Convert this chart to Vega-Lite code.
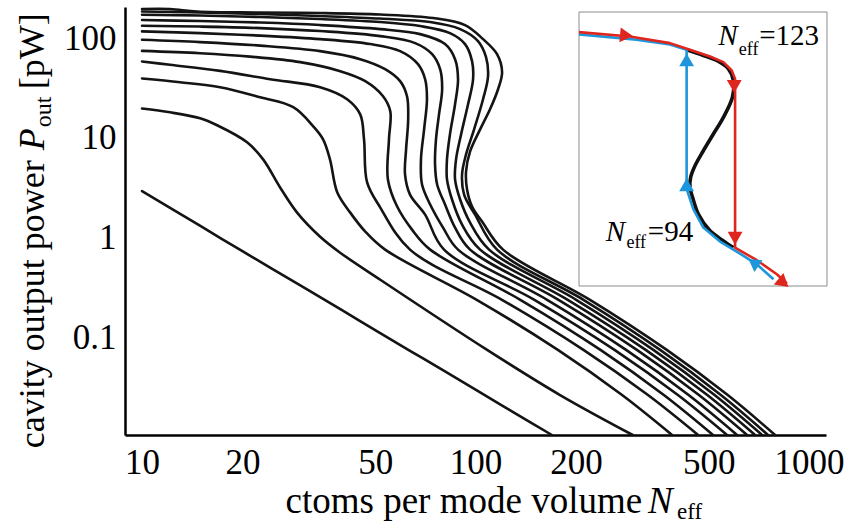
{
 "$schema": "https://vega.github.io/schema/vega-lite/v6.json",
 "width": 701, "height": 428,
 "autosize": {"type": "none"},
 "padding": {"left": 125, "top": 7, "right": 22, "bottom": 92},
 "background": "white",
 "config": {"view": {"stroke": null}, "font": "Liberation Serif"},
 "datasets": {
  "curves": [
   {"c":1,"x":10,"y":2.92},{"c":1,"x":15,"y":1.30},{"c":1,"x":20,"y":0.73},{"c":1,"x":30,"y":0.328},{"c":1,"x":40,"y":0.185},{"c":1,"x":50,"y":0.118},{"c":1,"x":70,"y":0.0607},{"c":1,"x":100,"y":0.030},{"c":1,"x":130,"y":0.0177},{"c":1,"x":169.4,"y":0.0105},
   {"c":2,"x":10,"y":19.66},{"c":2,"x":12.13,"y":18.03},{"c":2,"x":14.93,"y":15.7},{"c":2,"x":16.79,"y":13.37},{"c":2,"x":20.65,"y":9.02},{"c":2,"x":23.07,"y":6.08},{"c":2,"x":25.94,"y":3.18},{"c":2,"x":29.17,"y":1.78},{"c":2,"x":34.2,"y":1.02},{"c":2,"x":39.26,"y":0.706},{"c":2,"x":51.8,"y":0.378},{"c":2,"x":108.3,"y":0.0749},{"c":2,"x":179.2,"y":0.0264},{"c":2,"x":296,"y":0.0105},
   {"c":3,"x":10,"y":39.36},{"c":3,"x":13.0,"y":36.14},{"c":3,"x":17.14,"y":32.2},{"c":3,"x":22.6,"y":25.5},{"c":3,"x":28.4,"y":20.28},{"c":3,"x":32.6,"y":13.06},{"c":3,"x":34.9,"y":9.66},{"c":3,"x":36.6,"y":6.08},{"c":3,"x":38.5,"y":2.83},{"c":3,"x":42.1,"y":1.78},{"c":3,"x":46.7,"y":1.149},{"c":3,"x":53.55,"y":0.758},{"c":3,"x":100.8,"y":0.238},{"c":3,"x":176.5,"y":0.0749},{"c":3,"x":275.0,"y":0.0264},{"c":3,"x":388.3,"y":0.0105},
   {"c":4,"x":10,"y":58.3},{"c":4,"x":12.13,"y":53.95},{"c":4,"x":17.14,"y":46.9},{"c":4,"x":24.2,"y":38.7},{"c":4,"x":34.2,"y":32.2},{"c":4,"x":41.2,"y":24.4},{"c":4,"x":45.1,"y":17.2},{"c":4,"x":46.3,"y":9.66},{"c":4,"x":47.3,"y":3.57},{"c":4,"x":51.8,"y":2.0},{"c":4,"x":63.6,"y":0.758},{"c":4,"x":120.0,"y":0.238},{"c":4,"x":210.6,"y":0.0749},{"c":4,"x":328.8,"y":0.0264},{"c":4,"x":464.8,"y":0.0105},
   {"c":5,"x":10,"y":74.5},{"c":5,"x":14.93,"y":70.6},{"c":5,"x":21.1,"y":65.2},{"c":5,"x":29.8,"y":57.4},{"c":5,"x":39.3,"y":46.6},{"c":5,"x":46.7,"y":37.0},{"c":5,"x":52.8,"y":26.1},{"c":5,"x":55.5,"y":18.45},{"c":5,"x":55.0,"y":9.66},{"c":5,"x":54.6,"y":3.83},{"c":5,"x":58.2,"y":2.05},{"c":5,"x":64.5,"y":1.203},{"c":5,"x":73.1,"y":0.758},{"c":5,"x":136.2,"y":0.238},{"c":5,"x":236.9,"y":0.0749},{"c":5,"x":366.9,"y":0.0264},{"c":5,"x":515.3,"y":0.0105},
   {"c":6,"x":10,"y":96.1},{"c":6,"x":14.93,"y":91.2},{"c":6,"x":22.6,"y":84.1},{"c":6,"x":34.2,"y":74.0},{"c":6,"x":45.1,"y":61.5},{"c":6,"x":53.55,"y":48.8},{"c":6,"x":59.4,"y":37.0},{"c":6,"x":62.3,"y":26.1},{"c":6,"x":62.8,"y":15.35},{"c":6,"x":61.9,"y":7.66},{"c":6,"x":61.45,"y":4.3},{"c":6,"x":63.6,"y":2.7},{"c":6,"x":70.6,"y":1.7},{"c":6,"x":80.45,"y":0.758},{"c":6,"x":150.1,"y":0.238},{"c":6,"x":261.0,"y":0.0749},{"c":6,"x":404.3,"y":0.0264},{"c":6,"x":567.5,"y":0.0105},
   {"c":7,"x":10,"y":116.8},{"c":7,"x":14.93,"y":112.2},{"c":7,"x":22.6,"y":105.9},{"c":7,"x":34.2,"y":97.7},{"c":7,"x":48.3,"y":87.1},{"c":7,"x":59.4,"y":74.0},{"c":7,"x":67.2,"y":54.8},{"c":7,"x":70.6,"y":38.7},{"c":7,"x":71.5,"y":24.4},{"c":7,"x":70.1,"y":12.17},{"c":7,"x":68.6,"y":6.08},{"c":7,"x":69.1,"y":3.41},{"c":7,"x":73.1,"y":2.15},{"c":7,"x":79.9,"y":1.26},{"c":7,"x":88.6,"y":0.758},{"c":7,"x":163.9,"y":0.238},{"c":7,"x":282.7,"y":0.0749},{"c":7,"x":435.3,"y":0.0264},{"c":7,"x":608.2,"y":0.0105},
   {"c":8,"x":10,"y":132.9},{"c":8,"x":14.93,"y":130.5},{"c":8,"x":22.6,"y":126.0},{"c":8,"x":34.2,"y":117.6},{"c":8,"x":51.8,"y":104.7},{"c":8,"x":65.9,"y":89.1},{"c":8,"x":74.1,"y":69.0},{"c":8,"x":78.3,"y":48.8},{"c":8,"x":79.4,"y":30.7},{"c":8,"x":77.7,"y":17.2},{"c":8,"x":76.1,"y":9.66},{"c":8,"x":75.6,"y":5.42},{"c":8,"x":76.7,"y":3.41},{"c":8,"x":81.0,"y":2.15},{"c":8,"x":86.8,"y":1.26},{"c":8,"x":96.3,"y":0.758},{"c":8,"x":177.3,"y":0.238},{"c":8,"x":304.6,"y":0.0749},{"c":8,"x":467.4,"y":0.0264},{"c":8,"x":651.7,"y":0.0105},
   {"c":9,"x":10,"y":151.7},{"c":9,"x":14.93,"y":148.3},{"c":9,"x":22.6,"y":143.2},{"c":9,"x":34.2,"y":135.1},{"c":9,"x":51.8,"y":123.1},{"c":9,"x":68.2,"y":109.6},{"c":9,"x":81.0,"y":87.1},{"c":9,"x":86.8,"y":61.5},{"c":9,"x":88.6,"y":38.7},{"c":9,"x":86.8,"y":21.7},{"c":9,"x":83.8,"y":10.84},{"c":9,"x":82.1,"y":6.08},{"c":9,"x":82.1,"y":3.83},{"c":9,"x":85.0,"y":2.41},{"c":9,"x":91.1,"y":1.351},{"c":9,"x":103.2,"y":0.758},{"c":9,"x":189.0,"y":0.238},{"c":9,"x":323.6,"y":0.0749},{"c":9,"x":495.3,"y":0.0264},{"c":9,"x":688.8,"y":0.0105},
   {"c":10,"x":10,"y":171.5},{"c":10,"x":14.93,"y":168.3},{"c":10,"x":22.6,"y":162.6},{"c":10,"x":34.2,"y":155.2},{"c":10,"x":51.8,"y":144.9},{"c":10,"x":68.2,"y":132.0},{"c":10,"x":83.8,"y":112.2},{"c":10,"x":93.0,"y":87.1},{"c":10,"x":97.6,"y":58.75},{"c":10,"x":98.3,"y":38.7},{"c":10,"x":94.95,"y":21.7},{"c":10,"x":90.5,"y":10.84},{"c":10,"x":87.4,"y":6.08},{"c":10,"x":86.8,"y":3.83},{"c":10,"x":89.9,"y":2.41},{"c":10,"x":96.3,"y":1.415},{"c":10,"x":109.8,"y":0.758},{"c":10,"x":200.3,"y":0.238},{"c":10,"x":341.3,"y":0.0749},{"c":10,"x":520.8,"y":0.0264},{"c":10,"x":722.9,"y":0.0105},
   {"c":11,"x":10,"y":184.6},{"c":11,"x":12.13,"y":183.4},{"c":11,"x":14.93,"y":180.4},{"c":11,"x":22.6,"y":174.3},{"c":11,"x":34.2,"y":166.4},{"c":11,"x":51.8,"y":157.0},{"c":11,"x":73.1,"y":144.8},{"c":11,"x":89.9,"y":123.1},{"c":11,"x":101.7,"y":93.3},{"c":11,"x":107.5,"y":64.4},{"c":11,"x":109.0,"y":41.5},{"c":11,"x":105.3,"y":24.4},{"c":11,"x":99.0,"y":12.17},{"c":11,"x":93.65,"y":6.82},{"c":11,"x":91.1,"y":4.3},{"c":11,"x":92.4,"y":2.7},{"c":11,"x":99.65,"y":1.7},{"c":11,"x":116.0,"y":0.758},{"c":11,"x":210.6,"y":0.238},{"c":11,"x":357.7,"y":0.0749},{"c":11,"x":543.9,"y":0.0264},{"c":11,"x":753.4,"y":0.0105},
   {"c":12,"x":10,"y":195.6},{"c":12,"x":12.13,"y":195.6},{"c":12,"x":14.62,"y":184.6},{"c":12,"x":22.6,"y":180.4},{"c":12,"x":34.2,"y":178.4},{"c":12,"x":51.8,"y":172.3},{"c":12,"x":74.6,"y":158.9},{"c":12,"x":93.0,"y":135.1},{"c":12,"x":105.3,"y":97.7},{"c":12,"x":116.0,"y":69.0},{"c":12,"x":120.1,"y":45.5},{"c":12,"x":116.8,"y":30.7},{"c":12,"x":110.5,"y":19.34},{"c":12,"x":103.2,"y":12.17},{"c":12,"x":96.3,"y":7.32},{"c":12,"x":93.65,"y":4.61},{"c":12,"x":94.3,"y":3.04},{"c":12,"x":97.6,"y":2.05},{"c":12,"x":104.6,"y":1.448},{"c":12,"x":120.9,"y":0.758},{"c":12,"x":220.4,"y":0.238},{"c":12,"x":374.4,"y":0.0749},{"c":12,"x":570.3,"y":0.0264},{"c":12,"x":790.8,"y":0.0105}
  ],
  "xticks": [{"v":10},{"v":20},{"v":30},{"v":40},{"v":50},{"v":60},{"v":70},{"v":80},{"v":90},{"v":100},{"v":200},{"v":300},{"v":400},{"v":500},{"v":600},{"v":700},{"v":800},{"v":900},{"v":1000}],
  "yticks": [{"v":0.02},{"v":0.03},{"v":0.04},{"v":0.05},{"v":0.06},{"v":0.07},{"v":0.08},{"v":0.09},{"v":0.1},{"v":0.2},{"v":0.3},{"v":0.4},{"v":0.5},{"v":0.6},{"v":0.7},{"v":0.8},{"v":0.9},{"v":1},{"v":2},{"v":3},{"v":4},{"v":5},{"v":6},{"v":7},{"v":8},{"v":9},{"v":10},{"v":20},{"v":30},{"v":40},{"v":50},{"v":60},{"v":70},{"v":80},{"v":90},{"v":100},{"v":200}],
  "titles": [
   {"k":"xm","x":315.8,"y":0.00172,"t":"ctoms per mode volume"},
   {"k":"xi","x":329.0,"y":0.00172,"t":"N"},
   {"k":"xs","x":402.0,"y":0.00150,"t":"eff"},
   {"k":"ym","x":5.083,"y":0.00775,"t":"cavity output power"},
   {"k":"yi","x":5.083,"y":7.49,"t":"P"},
   {"k":"ys","x":5.335,"y":12.75,"t":"out"},
   {"k":"ym","x":5.083,"y":30.7,"t":"[pW]"}
  ],
  "inset": [
   {"s":"box","N":29.6,"P":0.1047,"N2":178,"P2":180.7},
   {"s":"k","N":94,"P":64.6},{"s":"k","N":104,"P":55.4},{"s":"k","N":112,"P":48.3},{"s":"k","N":119,"P":38.5},{"s":"k","N":122,"P":28.0},{"s":"k","N":121.4,"P":17.8},{"s":"k","N":116,"P":10.3},{"s":"k","N":110,"P":6.54},{"s":"k","N":104,"P":4.15},{"s":"k","N":99,"P":2.76},{"s":"k","N":96.4,"P":2.01},{"s":"k","N":96,"P":1.53},{"s":"k","N":97.6,"P":1.16},{"s":"k","N":101,"P":0.739},{"s":"k","N":108,"P":0.469},{"s":"k","N":116,"P":0.357},{"s":"k","N":122,"P":0.298},
   {"s":"b","N":146,"P":0.1256},{"s":"b","N":136,"P":0.189},{"s":"b","N":124,"P":0.267},{"s":"b","N":114,"P":0.3505},{"s":"b","N":104,"P":0.513},{"s":"b","N":98,"P":0.846},{"s":"b","N":94.4,"P":1.395},{"s":"b","N":94,"P":1.5},{"s":"b","N":94,"P":64.6},{"s":"b","N":84,"P":74.8},{"s":"b","N":64,"P":84.9},{"s":"b","N":29.6,"P":98.2},
   {"s":"r","N":29.6,"P":104.6},{"s":"r","N":60,"P":92.9},{"s":"r","N":84,"P":77.5},{"s":"r","N":96,"P":64.6},{"s":"r","N":108,"P":53.9},{"s":"r","N":116,"P":46.2},{"s":"r","N":121,"P":36.8},{"s":"r","N":123,"P":29.3},{"s":"r","N":123,"P":0.2976},{"s":"r","N":136,"P":0.211},{"s":"r","N":148,"P":0.144},{"s":"r","N":154,"P":0.112},
   {"s":"rr","N":58,"P":95.6},
   {"s":"rd","N":122.5,"P":23.8},{"s":"rd","N":123,"P":0.384},
   {"s":"rx","N":152,"P":0.114},
   {"s":"bu","N":94,"P":49.2},{"s":"bu","N":94,"P":1.644},
   {"s":"bx","N":134,"P":0.198},
   {"s":"tN","N":113,"P":72.8,"t":"N"},{"s":"tS","N":125.2,"P":55.4,"t":"eff"},{"s":"tE","N":137.4,"P":72.8,"t":"=123"},
   {"s":"tN","N":45.6,"P":0.357,"t":"N"},{"s":"tS","N":58.0,"P":0.298,"t":"eff"},{"s":"tE","N":70.8,"P":0.357,"t":"=94"}
  ]
 },
 "layer": [
  {
   "encoding": {
    "x": {"field": "x", "type": "quantitative",
     "scale": {"type": "log", "domain": [8.89, 1124], "nice": false},
     "axis": {"title": null, "grid": false, "ticks": false,
      "values": [10,20,50,100,200,500,1000],
      "labelExpr": "format(datum.value, 'd')",
      "domainColor": "black", "domainWidth": 2.5,
      "labelPadding": 10, "labelFont": "Liberation Serif", "labelFontSize": 35, "labelColor": "black",
      "labelFlush": false, "labelOverlap": false, "labelBound": false}},
    "y": {"field": "y", "type": "quantitative",
     "scale": {"type": "log", "domain": [0.0105, 205], "nice": false},
     "axis": {"title": null, "grid": false, "ticks": false,
      "values": [0.1, 1, 10, 100],
      "labelExpr": "datum.value == 100 ? '100' : datum.value == 10 ? '10' : datum.value == 1 ? '1' : '0.1'",
      "domainColor": "black", "domainWidth": 2.5,
      "labelPadding": 9, "labelFont": "Liberation Serif", "labelFontSize": 35, "labelColor": "black",
      "labelFlush": false, "labelOverlap": false, "labelBound": false}}
   },
   "layer": [
    {"data": {"name": "curves"},
     "mark": {"type": "line", "color": "#141414", "strokeWidth": 2.6, "strokeJoin": "round", "strokeCap": "round", "interpolate": "catmull-rom"},
     "encoding": {"detail": {"field": "c", "type": "nominal"}, "order": {"value": null}}},
    {"data": {"name": "xticks"}, "transform": [{"filter": "indexof([10,20,50,100,200,500,1000], datum.v) >= 0"}],
     "mark": {"type": "rule", "color": "black", "strokeWidth": 2},
     "encoding": {"x": {"field": "v", "type": "quantitative"}, "y": {"datum": 0.0105}, "y2": {"datum": 0.0127}}},
    {"data": {"name": "xticks"}, "transform": [{"filter": "indexof([10,20,50,100,200,500,1000], datum.v) < 0"}],
     "mark": {"type": "rule", "color": "black", "strokeWidth": 1.6},
     "encoding": {"x": {"field": "v", "type": "quantitative"}, "y": {"datum": 0.0105}, "y2": {"datum": 0.0119}}},
    {"data": {"name": "yticks"}, "transform": [{"filter": "indexof([0.1,1,10,100], datum.v) >= 0"}],
     "mark": {"type": "rule", "color": "black", "strokeWidth": 2},
     "encoding": {"y": {"field": "v", "type": "quantitative"}, "x": {"datum": 8.89}, "x2": {"datum": 9.35}}},
    {"data": {"name": "yticks"}, "transform": [{"filter": "indexof([0.1,1,10,100], datum.v) < 0"}],
     "mark": {"type": "rule", "color": "black", "strokeWidth": 1.6},
     "encoding": {"y": {"field": "v", "type": "quantitative"}, "x": {"datum": 8.89}, "x2": {"datum": 9.2}}},
    {"data": {"name": "titles"}, "transform": [{"filter": "datum.k == 'xm'"}],
     "mark": {"type": "text", "align": "right", "baseline": "alphabetic", "fontSize": 37, "font": "Liberation Serif", "color": "black"},
     "encoding": {"text": {"field": "t"}}},
    {"data": {"name": "titles"}, "transform": [{"filter": "datum.k == 'xi'"}],
     "mark": {"type": "text", "align": "left", "baseline": "alphabetic", "fontSize": 37, "fontStyle": "italic", "font": "Liberation Serif", "color": "black"},
     "encoding": {"text": {"field": "t"}}},
    {"data": {"name": "titles"}, "transform": [{"filter": "datum.k == 'xs'"}],
     "mark": {"type": "text", "align": "left", "baseline": "alphabetic", "fontSize": 23, "font": "Liberation Serif", "color": "black"},
     "encoding": {"text": {"field": "t"}}},
    {"data": {"name": "titles"}, "transform": [{"filter": "datum.k == 'ym'"}],
     "mark": {"type": "text", "align": "left", "baseline": "alphabetic", "angle": 270, "fontSize": 36, "font": "Liberation Serif", "color": "black"},
     "encoding": {"text": {"field": "t"}}},
    {"data": {"name": "titles"}, "transform": [{"filter": "datum.k == 'yi'"}],
     "mark": {"type": "text", "align": "left", "baseline": "alphabetic", "angle": 270, "fontSize": 36, "fontStyle": "italic", "font": "Liberation Serif", "color": "black"},
     "encoding": {"text": {"field": "t"}}},
    {"data": {"name": "titles"}, "transform": [{"filter": "datum.k == 'ys'"}],
     "mark": {"type": "text", "align": "left", "baseline": "alphabetic", "angle": 270, "fontSize": 24, "font": "Liberation Serif", "color": "black"},
     "encoding": {"text": {"field": "t"}}}
   ]
  },
  {
   "data": {"name": "inset"},
   "encoding": {
    "x": {"field": "N", "type": "quantitative", "scale": {"type": "linear", "domain": [29.6, 178], "range": [454, 702], "zero": false, "nice": false}, "axis": null},
    "y": {"field": "P", "type": "quantitative", "scale": {"type": "log", "domain": [0.1047, 180.7], "range": [279, 5], "nice": false}, "axis": null}
   },
   "layer": [
    {"transform": [{"filter": "datum.s == 'box'"}],
     "mark": {"type": "rect", "fill": "white", "stroke": "#8c8c8c", "strokeWidth": 1},
     "encoding": {"x2": {"field": "N2"}, "y2": {"field": "P2"}}},
    {"transform": [{"filter": "datum.s == 'k'"}],
     "mark": {"type": "line", "color": "#111111", "strokeWidth": 3.6, "strokeJoin": "round", "interpolate": "catmull-rom"},
     "encoding": {"order": {"value": null}}},
    {"transform": [{"filter": "datum.s == 'b'"}],
     "mark": {"type": "line", "color": "#1e96dc", "strokeWidth": 2.6, "strokeJoin": "round"},
     "encoding": {"order": {"value": null}}},
    {"transform": [{"filter": "datum.s == 'r'"}],
     "mark": {"type": "line", "color": "#df261e", "strokeWidth": 2.6, "strokeJoin": "round"},
     "encoding": {"order": {"value": null}}},
    {"transform": [{"filter": "datum.s == 'rr'"}],
     "mark": {"type": "point", "shape": "triangle-right", "angle": 5, "filled": true, "color": "#df261e", "size": 220, "opacity": 1}},
    {"transform": [{"filter": "datum.s == 'rd'"}],
     "mark": {"type": "point", "shape": "triangle-down", "filled": true, "color": "#df261e", "size": 220, "opacity": 1}},
    {"transform": [{"filter": "datum.s == 'rx'"}],
     "mark": {"type": "point", "shape": "triangle-right", "angle": 40, "filled": true, "color": "#df261e", "size": 220, "opacity": 1}},
    {"transform": [{"filter": "datum.s == 'bu'"}],
     "mark": {"type": "point", "shape": "triangle-up", "filled": true, "color": "#1e96dc", "size": 220, "opacity": 1}},
    {"transform": [{"filter": "datum.s == 'bx'"}],
     "mark": {"type": "point", "shape": "triangle-left", "angle": 35, "filled": true, "color": "#1e96dc", "size": 200, "opacity": 1}},
    {"transform": [{"filter": "datum.s == 'tN'"}],
     "mark": {"type": "text", "align": "left", "baseline": "alphabetic", "fontSize": 29, "fontStyle": "italic", "font": "Liberation Serif", "color": "black"},
     "encoding": {"text": {"field": "t"}}},
    {"transform": [{"filter": "datum.s == 'tS'"}],
     "mark": {"type": "text", "align": "left", "baseline": "alphabetic", "fontSize": 18, "font": "Liberation Serif", "color": "black"},
     "encoding": {"text": {"field": "t"}}},
    {"transform": [{"filter": "datum.s == 'tE'"}],
     "mark": {"type": "text", "align": "left", "baseline": "alphabetic", "fontSize": 29, "font": "Liberation Serif", "color": "black"},
     "encoding": {"text": {"field": "t"}}}
   ]
  }
 ],
 "resolve": {"scale": {"x": "independent", "y": "independent"}}
}
